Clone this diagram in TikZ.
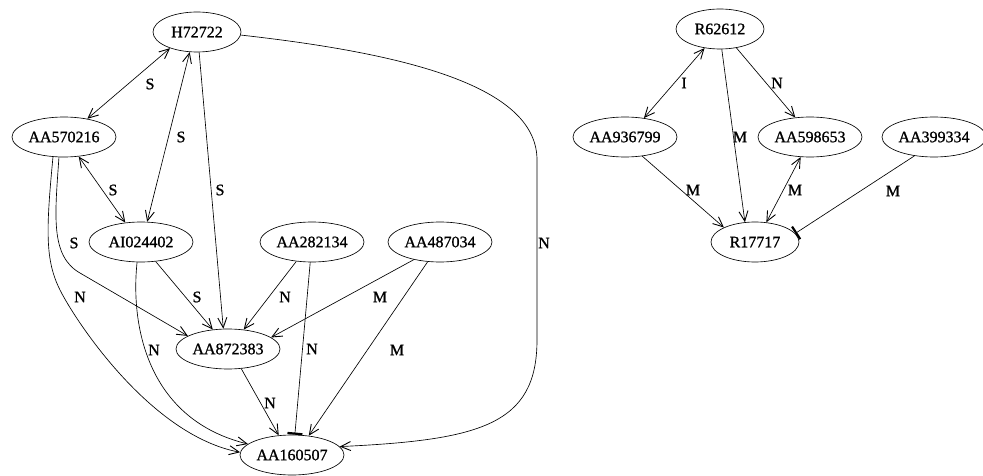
\documentclass[tikz,border=0pt]{standalone}
\usepackage{fontspec}
\setmainfont{Liberation Serif}
\newfontfamily\genefont[FakeBold=1]{Liberation Serif}
\usetikzlibrary{shapes.geometric,arrows.meta}

\tikzset{
  gene/.style={draw, ellipse, line width=0.65pt, inner sep=0pt,
    minimum width=104pt, minimum height=40pt,
    font=\genefont\fontsize{16}{18}\selectfont},
  short/.style={gene, minimum width=88pt},
  link/.style={line width=0.65pt, -{Straight Barb[length=10pt,width=9pt,line width=0.9pt]}},
  both/.style={line width=0.65pt, {Straight Barb[length=10pt,width=9pt,line width=0.9pt]}-{Straight Barb[length=10pt,width=9pt,line width=0.9pt]}},
  block/.style={line width=0.65pt, -{Bar[width=15pt,line width=2.2pt]}},
  lbl/.style={inner sep=0pt, font=\genefont\fontsize{16}{18}\selectfont}
}

\begin{document}
\begin{tikzpicture}[x=1pt, y=-1pt]
\useasboundingbox (0,0) rectangle (983,476);

% left component
\node[short] (H72722)   at (197,32)  {H72722};
\node[gene]  (AA570216) at (64,137)  {AA570216};
\node[gene]  (AI024402) at (141,242) {AI024402};
\node[gene]  (AA282134) at (312,242) {AA282134};
\node[gene]  (AA487034) at (440,242) {AA487034};
\node[gene]  (AA872383) at (228,349) {AA872383};
\node[gene]  (AA160507) at (292,455) {AA160507};

% right component
\node[short] (R62612)   at (720,29)  {R62612};
\node[gene]  (AA936799) at (625,137) {AA936799};
\node[gene]  (AA598653) at (810,137) {AA598653};
\node[gene]  (AA399334) at (934,137) {AA399334};
\node[short] (R17717)   at (755,242) {R17717};

% edges of the left component
\draw[both] (H72722.211) -- (AA570216.38);
\draw[both] (H72722.250) -- (AI024402.73);
\draw[link] (H72722.276) -- (AA872383.103);
\draw[link] (H72722.356) .. controls (420,55) and (537,90) .. (537,160)
  -- (537,340) .. controls (537,425) and (480,440) .. (AA160507.10);
\draw[both] (AA570216.307) -- (AI024402.129);
\draw[link] (AA570216.256) .. controls (55,215) and (50,256) .. (80,273)
  -- (AA872383.162);
\draw[link] (AA570216.241) .. controls (46,230) and (45,260) .. (60,290)
  .. controls (75,320) and (150,435) .. (AA160507.177);
\draw[link] (AI024402.307) -- (AA872383.128);
\draw[link] (AI024402.259) .. controls (130,330) and (150,420) .. (AA160507.166);
\draw[link] (AA282134.231) -- (AA872383.51);
\draw[block] (AA282134.265) -- (AA160507.82);
\draw[link] (AA487034.214) -- (AA872383.15);
\draw[link] (AA487034.238) -- (AA160507.49);
\draw[link] (AA872383.304) -- (AA160507.124);

% edges of the right component
\draw[both] (R62612.231) -- (AA936799.45);
\draw[link] (R62612.275) -- (R17717.117);
\draw[link] (R62612.311) -- (AA598653.127);
\draw[link] (AA936799.312) -- (R17717.155);
\draw[both] (AA598653.245) -- (R17717.60);
\draw[block] (AA399334.224) -- (R17717.12);

% edge labels
\node[lbl] (l1)  at (150,84)  {S};
\node[lbl] (l2)  at (181,137) {S};
\node[lbl] (l3)  at (220,190) {S};
\node[lbl] (l4)  at (544,243) {N};
\node[lbl] (l5)  at (113,190) {S};
\node[lbl] (l6)  at (74,243)  {S};
\node[lbl] (l7)  at (80,297)  {N};
\node[lbl] (l8)  at (197,297) {S};
\node[lbl] (l9)  at (154,350) {N};
\node[lbl] (l10) at (285,297) {N};
\node[lbl] (l11) at (312,349) {N};
\node[lbl] (l12) at (380,297) {M};
\node[lbl] (l13) at (397,350) {M};
\node[lbl] (l14) at (270,403) {N};
\node[lbl] (l15) at (684,83)  {I};
\node[lbl] (l16) at (740,137) {M};
\node[lbl] (l17) at (777,83)  {N};
\node[lbl] (l18) at (693,190) {M};
\node[lbl] (l19) at (795,190) {M};
\node[lbl] (l20) at (893,191) {M};
\end{tikzpicture}
\end{document}
